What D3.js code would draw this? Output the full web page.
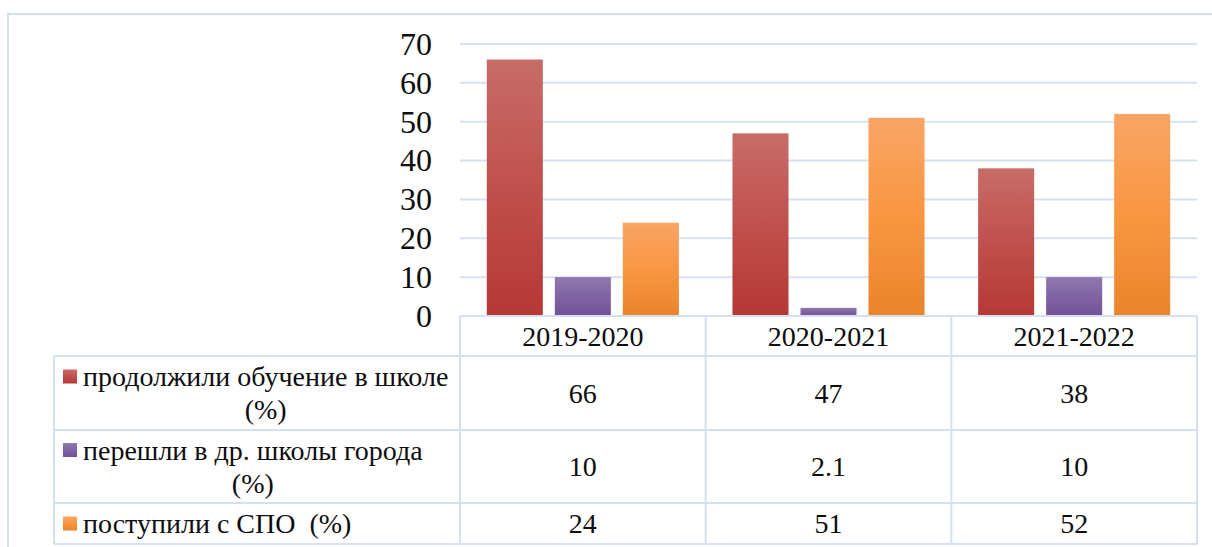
<!DOCTYPE html>
<html>
<head>
<meta charset="utf-8">
<script src="https://cdn.jsdelivr.net/npm/d3@7"></script>
<style>
  body { margin: 0; background: #fff; }
</style>
</head>
<body>
<div id="chart"></div>
<script>
const categories = ["2019-2020", "2020-2021", "2021-2022"];
const seriesNames = [
  ["продолжили обучение в школе", "(%)"],
  ["перешли в др. школы города", "(%)"],
  ["поступили с СПО  (%)"]
];
const continued = [66, 47, 38];
const transferred = [10, 2.1, 10];
const college = [24, 51, 52];
const yTicks = [0, 10, 20, 30, 40, 50, 60, 70];

let width = 1212,
    height = 547,
    lineColor = "#d5e1f2",
    serif = "Liberation Serif";

const series = [continued, transferred, college];
const gradients = [
  ["#c86c68", "#c0504d", "#b63835"],
  ["#9079ad", "#8064a2", "#72529a"],
  ["#f9a566", "#f99641", "#e8852b"]
];

const svg = d3.select("#chart").append("svg")
    .attr("width", width)
    .attr("height", height);

// every label gets the serif face set directly on the element
function label(sel, size) {
    return sel.attr("font-family", serif)
        .style("font-family", serif)
        .attr("font-size", size)
        .style("font-size", size + "px")
        .attr("fill", "#0d0d0d");
}

const defs = svg.append("defs");
gradients.forEach((g, i) => {
    const lg = defs.append("linearGradient")
        .attr("id", "grad" + i)
        .attr("x1", 0).attr("y1", 0).attr("x2", 0).attr("y2", 1);
    lg.append("stop").attr("offset", "0%").attr("stop-color", g[0]);
    lg.append("stop").attr("offset", "50%").attr("stop-color", g[1]);
    lg.append("stop").attr("offset", "100%").attr("stop-color", g[2]);
});

// outer frame
svg.append("rect")
    .attr("x", 8).attr("y", 14)
    .attr("width", 1230).attr("height", 560)
    .attr("fill", "none")
    .attr("stroke", lineColor)
    .attr("stroke-width", 2);

const x = d3.scaleBand()
    .domain(categories)
    .range([460, 1197]);

const xInner = d3.scaleBand()
    .domain(d3.range(series.length))
    .range([0, x.bandwidth()])
    .paddingInner(0.176)
    .paddingOuter(0.394);

const y = d3.scaleLinear()
    .domain([0, 70])
    .range([316, 44]);

// gridlines
svg.append("g")
    .selectAll("line")
    .data(yTicks)
    .enter().append("line")
    .attr("x1", 460).attr("x2", 1197)
    .attr("y1", d => y(d)).attr("y2", d => y(d))
    .attr("stroke", lineColor)
    .attr("stroke-width", 2);

// y labels
svg.append("g")
    .selectAll("text")
    .data(yTicks)
    .enter().append("text")
    .call(label, 32)
    .attr("x", 432)
    .attr("y", d => y(d))
    .attr("dy", "0.34em")
    .attr("text-anchor", "end")
    .text(d => d);

// bars
series.forEach((vals, i) => {
    svg.append("g")
        .selectAll("rect")
        .data(vals)
        .enter().append("rect")
        .attr("x", (d, j) => x(categories[j]) + xInner(i))
        .attr("width", xInner.bandwidth())
        .attr("y", d => y(d))
        .attr("height", d => y(0) - y(d))
        .attr("fill", "url(#grad" + i + ")");
});

// data table
const rowEdges = [316, 356, 430, 503, 544];
const table = svg.append("g")
    .attr("stroke", lineColor)
    .attr("stroke-width", 2);

table.append("line").attr("x1", 460).attr("x2", 1197).attr("y1", rowEdges[0]).attr("y2", rowEdges[0]);
rowEdges.slice(1).forEach(r => {
    table.append("line").attr("x1", 54).attr("x2", 1197).attr("y1", r).attr("y2", r);
});
[460].concat(categories.map(c => x(c) + x.bandwidth())).forEach(v => {
    table.append("line").attr("x1", v).attr("x2", v).attr("y1", rowEdges[0]).attr("y2", rowEdges[4]);
});
table.append("line").attr("x1", 54).attr("x2", 54).attr("y1", rowEdges[1]).attr("y2", rowEdges[4]);

// header labels
svg.append("g")
    .selectAll("text")
    .data(categories)
    .enter().append("text")
    .call(label, 28)
    .attr("x", d => x(d) + x.bandwidth() / 2)
    .attr("y", (rowEdges[0] + rowEdges[1]) / 2)
    .attr("dy", "0.34em")
    .attr("text-anchor", "middle")
    .text(d => d);

// values
series.forEach((vals, i) => {
    const cy = (rowEdges[i + 1] + rowEdges[i + 2]) / 2;
    svg.append("g")
        .selectAll("text")
        .data(vals)
        .enter().append("text")
        .call(label, 28)
        .attr("x", (d, j) => x(categories[j]) + x.bandwidth() / 2)
        .attr("y", cy)
        .attr("dy", "0.34em")
        .attr("text-anchor", "middle")
        .text(d => d);
});

// legend cells
seriesNames.forEach((lines, i) => {
    const top = rowEdges[i + 1], bottom = rowEdges[i + 2];
    const cy = (top + bottom) / 2;
    const lh = 33;
    const g = svg.append("g");
    const txt = g.append("text")
        .call(label, 28)
        .attr("xml:space", "preserve")
        .style("white-space", "pre")
        .attr("text-anchor", "middle");
    lines.forEach((l, k) => {
        txt.append("tspan")
            .attr("y", cy + (k - (lines.length - 1) / 2) * lh)
            .attr("dy", "0.34em")
            .text(l);
    });
    const w = d3.max(txt.selectAll("tspan").nodes(), n => n.getComputedTextLength());
    txt.selectAll("tspan").attr("x", 83 + w / 2);
    const firstY = cy - (lines.length - 1) / 2 * lh;
    g.append("rect")
        .attr("x", 63).attr("y", firstY - 7)
        .attr("width", 14).attr("height", 14)
        .attr("fill", "url(#grad" + i + ")");
});
</script>
</body>
</html>
